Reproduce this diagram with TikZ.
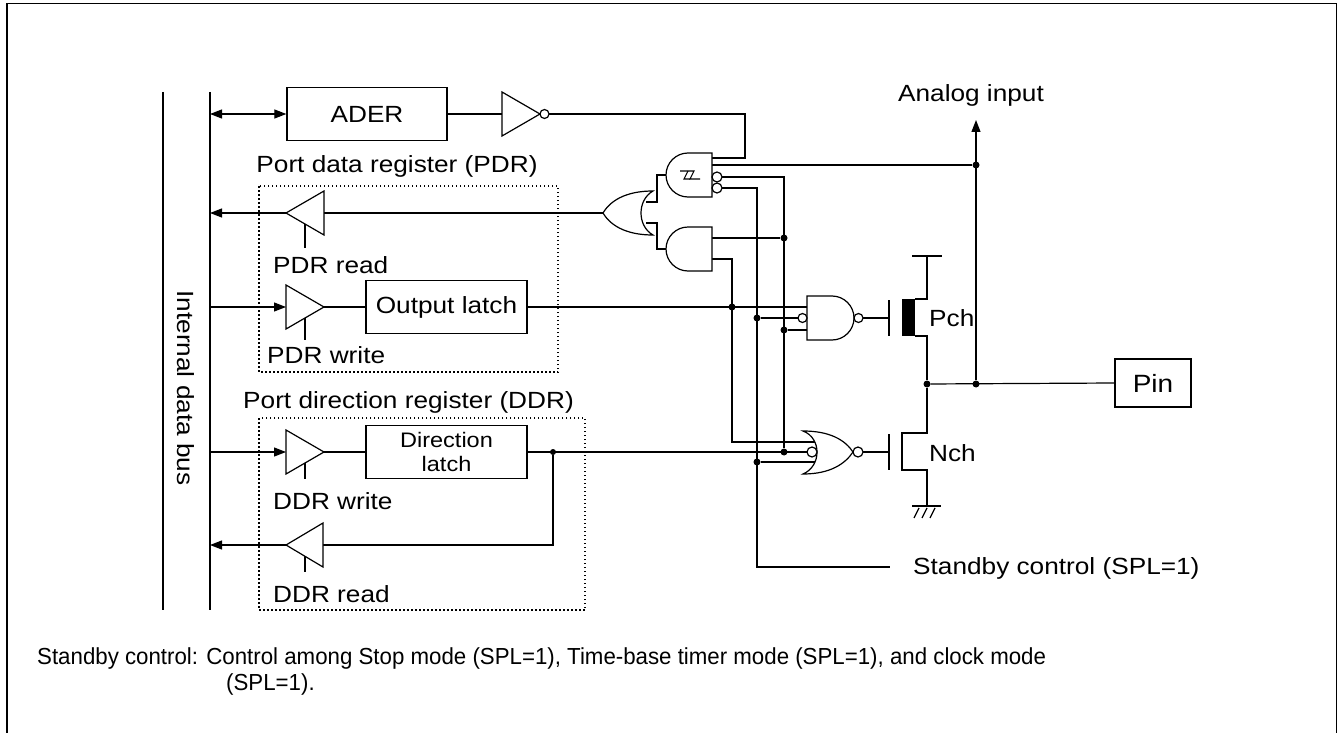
\documentclass[tikz,border=0pt]{standalone}
\usepackage{fontspec}
\setmainfont{Liberation Sans}[FakeStretch=1.12]
\newfontfamily\notefont{Liberation Sans}[FakeStretch=0.96]
\usetikzlibrary{arrows.meta}
\begin{document}
\begin{tikzpicture}[x=1pt,y=-1pt,
  wire/.style={line width=1.2pt},
  thickbus/.style={line width=2.2pt},
  lbl/.style={inner sep=0pt,font=\fontsize{23.4}{28}\selectfont},
  notelbl/.style={inner sep=0pt,font=\notefont\fontsize{23.2}{26}\selectfont},
  box/.style={draw,line width=1.3pt,inner sep=0pt,font=\fontsize{23.4}{28}\selectfont,align=center},
  jdot/.style={circle,fill=black,inner sep=0pt,minimum size=7pt},
  regbox/.style={line width=1.1pt,dash pattern=on 1.5pt off 2.5pt},
  gate/.style={line width=1.2pt,fill=white},
  >={Triangle[length=12pt,width=9pt]},
]
\useasboundingbox (0,0) rectangle (1338,733);
% frame
\draw[line width=1.6pt] (7,740) -- (7,3.5) -- (1336.5,3.5) -- (1336.5,740);

% internal data bus
\coordinate (ot) at (163,92); \coordinate (ob) at (163,610);
\coordinate (bt) at (210,92); \coordinate (bb) at (210,610);
\draw[thickbus] (ot) -- (ob);
\draw[thickbus] (bt) -- (bb);
\node[lbl,rotate=-90] (busl) at (186,388) {Internal data bus};

% register frames
\draw[regbox] (259,186) rectangle (558,372);
\draw[regbox] (259,418) rectangle (585,610);
\node[lbl,anchor=base] (pdrt) at (397,172) {Port data register (PDR)};
\node[lbl,anchor=base west] (ddrt) at (243,408) {Port direction register (DDR)};

% boxes
\node[box,minimum width=160pt,minimum height=53pt] (ader) at (367,114) {ADER};
\node[box,minimum width=161pt,minimum height=53pt] (olatch) at (446.5,307) {Output latch};
\node[box,minimum width=161pt,minimum height=53pt,font=\fontsize{21}{24}\selectfont] (dlatch) at (446.5,452) {Direction\\latch};
\node[box,minimum width=76pt,minimum height=48pt,font=\fontsize{25}{28}\selectfont] (pin) at (1153,383) {Pin};

% labels
\node[lbl,anchor=base west] (pdrr) at (273,273) {PDR read};
\node[lbl,anchor=base west] (pdrw) at (267,363) {PDR write};
\node[lbl,anchor=base west] (ddrw) at (273,509) {DDR write};
\node[lbl,anchor=base west] (ddrr) at (273,602) {DDR read};
\node[lbl,anchor=base] (anal) at (971,102) {Analog input};
\node[lbl,anchor=base west] (pchl) at (929,326) {Pch};
\node[lbl,anchor=base west] (nchl) at (929,461) {Nch};
\node[lbl,anchor=base west] (stbl) at (913,574) {Standby control (SPL=1)};
\node[notelbl,anchor=base west] (note1) at (37,664) {Standby control: Control among Stop mode (SPL=1), Time-base timer mode (SPL=1), and clock mode};
\node[notelbl,anchor=base west] (note2) at (226,690) {(SPL=1).};

% pin coordinates
\coordinate (invin) at (502,114); \coordinate (invout) at (549,114);
\coordinate (g1a) at (712,158); \coordinate (g1b) at (712,165);
\coordinate (g1c) at (722,177); \coordinate (g1d) at (722,188);
\coordinate (g1o) at (666,175);
\coordinate (g2a) at (712,238); \coordinate (g2b) at (712,259); \coordinate (g2o) at (666,249);
\coordinate (g3a) at (646,202); \coordinate (g3b) at (646,223); \coordinate (g3o) at (603,213);
\coordinate (rdin) at (324,213); \coordinate (rdout) at (286,213);
\coordinate (wrin) at (286,307); \coordinate (wrout) at (324,307);
\coordinate (dwin) at (286,452); \coordinate (dwout) at (324,452);
\coordinate (drin) at (323,545); \coordinate (drout) at (286,545);
\coordinate (g4a) at (807,307); \coordinate (g4b) at (798,318); \coordinate (g4c) at (807,330);
\coordinate (g4o) at (863,318);
\coordinate (g5a) at (816,442); \coordinate (g5b) at (807,452); \coordinate (g5c) at (816,462);
\coordinate (g5o) at (863,452);
\coordinate (pg) at (889,318); \coordinate (ng) at (889,452);
\coordinate (stb) at (890,567);
\coordinate (ana) at (976,120);

% junction dots
\node[jdot] (jA) at (976,165) {};
\node[jdot] (jB) at (976,384) {};
\node[jdot] (jC) at (927,384) {};
\node[jdot] (jD) at (784,238) {};
\node[jdot] (jE) at (732,307) {};
\node[jdot] (jF) at (757,318) {};
\node[jdot] (jG) at (784,330) {};
\node[jdot] (jH) at (757,462) {};
\node[jdot] (jI) at (784,452) {};
\node[jdot,minimum size=6pt] (jJ) at (553,452) {};

% wires
\draw[wire,<->] (bt |- ader.west) -- (ader.west);
\draw[wire] (ader.east) -- (invin);
\draw[wire] (invout) -- (745,114) -- (745,158) -- (g1a);
\draw[wire] (jA) -- (g1b);
\draw[wire] (g1c) -- (784,177) -- (jI);
\draw[wire] (g1d) -- (757,188) -- (757,567) -- (stb);
\draw[wire] (g2a) -- (jD);
\draw[wire] (g2b) -- (732,259) -- (732,442) -- (g5a);
\draw[wire] (g1o) -- (657,175) -- (657,202) -- (g3a);
\draw[wire] (g2o) -- (657,249) -- (657,223) -- (g3b);
\draw[wire] (g3o) -- (rdin);
\draw[wire,->] (rdout) -- (bt |- rdout);
\draw[wire,->] (bt |- wrin) -- (wrin);
\draw[wire] (wrout) -- (olatch.west);
\draw[wire] (olatch.east) -- (g4a);
\draw[wire] (jF) -- (g4b);
\draw[wire] (jG) -- (g4c);
\draw[wire,->] (bt |- dwin) -- (dwin);
\draw[wire] (dwout) -- (dlatch.west);
\draw[wire] (dlatch.east) -- (g5b);
\draw[wire] (jJ) -- (553,545) -- (drin);
\draw[wire,->] (drout) -- (bt |- drout);
\draw[wire] (jH) -- (g5c);
\draw[wire] (g4o) -- (pg);
\draw[wire] (g5o) -- (ng);
\draw[wire,->] (jB) -- (ana);
\draw[wire] (jA) -- (jB);
\draw[wire] (jC) -- (pin.west);

% buffer control lines
\draw[wire] (305,224) -- (305,248);
\draw[wire] (305,318) -- (305,340);
\draw[wire] (305,463) -- (305,479);
\draw[wire] (305,556) -- (305,572);

% buffers and inverter
\draw[gate] (324,191) -- (324,235) -- (rdout) -- cycle;
\draw[gate] (286,285) -- (286,329) -- (wrout) -- cycle;
\draw[gate] (286,430) -- (286,474) -- (dwout) -- cycle;
\draw[gate] (323,523) -- (323,567) -- (drout) -- cycle;
\draw[gate] (502,92) -- (502,136) -- (540,114) -- cycle;
\draw[gate] (544.5,114) circle[radius=4.5];

% G1 schmitt gate (points left)
\draw[gate] (712,153) -- (688,153) .. controls (675.9,153) and (666,162.9) .. (666,175)
  .. controls (666,187.1) and (675.9,197) .. (688,197) -- (712,197) -- cycle;
\draw[line width=1.1pt] (680,171) -- (694,171) -- (690,179) -- (700,179);
\draw[line width=1.1pt] (688,171) -- (684,179) -- (690,179);
\draw[gate] (717,177) circle[radius=5];
\draw[gate] (717,188) circle[radius=5];
% G2 AND (points left)
\draw[gate] (712,227) -- (688,227) .. controls (675.9,227) and (666,236.9) .. (666,249)
  .. controls (666,261.1) and (675.9,271) .. (688,271) -- (712,271) -- cycle;
% G3 OR (points left)
\draw[gate] (653,191) .. controls (630,191) and (612,198) .. (603,213)
  .. controls (612,228) and (630,235) .. (653,235)
  .. controls (637,226) and (637,200) .. (653,191) -- cycle;
% G4 NAND (points right)
\draw[gate] (807,296) -- (832,296) .. controls (844.1,296) and (854,305.9) .. (854,318)
  .. controls (854,330.1) and (844.1,340) .. (832,340) -- (807,340) -- cycle;
\draw[gate] (858.5,318) circle[radius=4.5];
\draw[gate] (802.5,318) circle[radius=4.5];
% G5 NOR (points right)
\draw[gate] (803,431) .. controls (830,431) and (845,440) .. (853,452)
  .. controls (845,464) and (830,474) .. (803,474)
  .. controls (821.7,466) and (821.7,438) .. (803,431) -- cycle;
\draw[gate] (858,452) circle[radius=5];
\draw[gate] (812,452) circle[radius=5];

% transistors
\draw[wire] (889,300) -- (889,336);
\draw[wire] (889,434) -- (889,470);
\fill (902,299) rectangle (915,336);
\draw[wire] (915,299) -- (927,299) -- (927,256);
\draw[line width=2.4pt] (912,256) -- (942,256);
\draw[wire] (915,336) -- (927,336) -- (jC);
\draw[wire] (jC) -- (927,433) -- (902,433) -- (902,470) -- (927,470) -- (927,506);
\draw[line width=2.4pt] (912,506) -- (941,506);
\draw[wire] (919,508) -- (914,518);
\draw[wire] (927,508) -- (922,518);
\draw[wire] (935,508) -- (930,518);
\end{tikzpicture}
\end{document}
